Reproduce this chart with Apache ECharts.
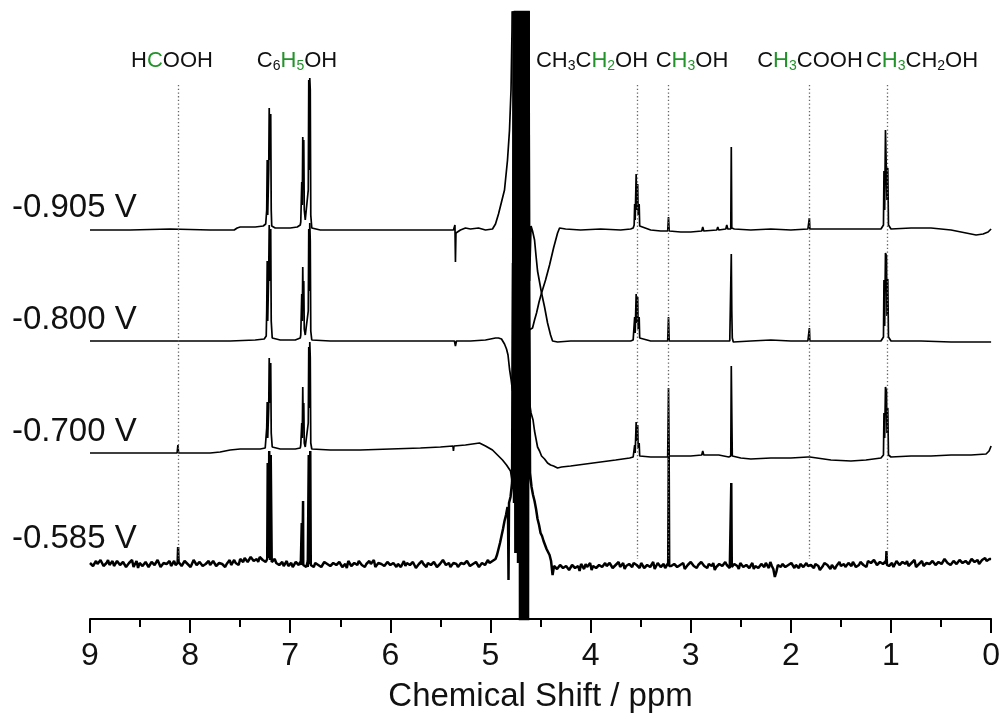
<!DOCTYPE html>
<html>
<head>
<meta charset="utf-8">
<title>1H NMR spectra</title>
<script src="https://cdn.jsdelivr.net/npm/echarts@6/dist/echarts.min.js"></script>
<style>
  html, body { margin: 0; padding: 0; background: #fff; }
  #chart { width: 1003px; height: 719px; }
</style>
</head>
<body>
<div id="chart"></div>
<script>
// Electrode potentials, one spectrum each (top to bottom)
const voltageLabels = ['-0.905 V', '-0.800 V', '-0.700 V', '-0.585 V'];
// Vertical stacking offset of each spectrum (intensity units)
const traceOffsets = [389, 278, 166, 56];
// Reference shifts (ppm) marked with dotted guides
const guideShifts = [8.12, 3.53, 3.22, 1.82, 1.04];

// Spectrum at -0.905 V : [ppm, intensity]
const spec0905 = [
  [9.00,0],[8.60,0],[8.20,1],[7.80,0],[7.56,0],[7.53,2],[7.50,3],[7.35,3],[7.27,4],[7.245,6],
  [7.235,20],[7.23,70],[7.225,15],[7.215,60],[7.21,122],[7.205,70],[7.195,116],[7.19,20],[7.185,4],
  [7.15,2],[7.00,2],[6.93,3],[6.90,5],[6.895,8],
  [6.885,48],[6.88,25],[6.875,93],[6.87,40],[6.865,90],[6.86,20],[6.85,10],[6.835,8],
  [6.82,40],[6.815,150],[6.81,60],[6.805,152],[6.80,140],[6.795,15],[6.785,2],
  [6.70,0],[6.40,0],[6.00,0],[5.60,0],[5.37,0],[5.355,5],[5.35,-32],[5.345,-3],[5.30,0],[5.25,2],[5.20,1],
  [5.12,2],[5.05,0],[4.98,1],[4.95,6],[4.92,16],[4.89,28],[4.86,40],[4.83,70],[4.81,100],[4.795,140],[4.785,200],
  [4.775,330],[4.765,700],[4.755,100],[4.745,700],[4.735,40],[4.725,700],[4.715,-60],[4.705,700],[4.695,-90],
  [4.685,700],[4.675,-100],[4.665,700],[4.655,-105],[4.645,700],[4.635,-105],[4.625,700],[4.615,-100],[4.605,-100],
  [4.58,-98],[4.56,-90],[4.54,-83],[4.515,-72],[4.49,-63],[4.45,-50],[4.41,-35],[4.37,-18],[4.33,-3],[4.31,2],
  [4.25,1],[4.10,0],[3.90,1],[3.70,0],[3.60,1],[3.575,2],
  [3.565,5],[3.56,26],[3.555,10],[3.545,56],[3.54,20],[3.53,46],[3.525,15],[3.515,26],[3.51,4],[3.50,2],
  [3.40,0],[3.30,-1],[3.23,-1],[3.222,13],[3.215,-1],[3.10,-2],[3.00,-2],[2.89,-1],[2.88,3],[2.87,-1],
  [2.74,0],[2.73,3],[2.72,0],[2.65,1],[2.64,5],[2.63,1],[2.60,1],[2.595,83],[2.59,2],[2.575,4],[2.565,1],
  [2.40,0],[2.20,1],[2.00,0],[1.83,1],[1.815,12],[1.81,1],[1.60,1],[1.30,1],[1.10,1],[1.075,5],
  [1.07,59],[1.063,20],[1.055,100],[1.045,98],[1.04,30],[1.032,62],[1.025,5],[1.00,1],
  [0.80,2],[0.60,2],[0.40,0],[0.25,-3],[0.15,-5],[0.08,-4],[0.03,-2],[0.00,1]
];

// Spectrum at -0.800 V
const spec0800 = [
  [9.00,0],[8.50,0],[8.00,0],[7.60,0],[7.35,1],[7.26,2],[7.24,5],
  [7.235,30],[7.23,80],[7.225,20],[7.215,70],[7.21,116],[7.205,60],[7.195,112],[7.19,20],[7.18,3],
  [7.10,1],[6.95,1],[6.90,3],[6.895,6],
  [6.885,47],[6.88,20],[6.875,74],[6.87,30],[6.865,60],[6.86,12],[6.85,6],[6.835,5],
  [6.82,30],[6.815,112],[6.81,50],[6.805,118],[6.80,100],[6.795,10],[6.785,1],
  [6.60,0],[6.20,0],[5.80,0],[5.50,0],[5.36,0],[5.35,-5],[5.34,0],[5.20,0],[5.05,1],[4.95,3],[4.92,3],
  [4.89,2],[4.86,-3],[4.84,-8],[4.825,-14],[4.81,-28],[4.795,-38],[4.78,-50],
  [4.765,700],[4.755,-120],[4.745,700],[4.735,-130],[4.725,700],[4.715,-130],[4.705,700],[4.695,-130],
  [4.685,700],[4.675,-130],[4.665,700],[4.655,-130],[4.645,700],[4.635,-125],[4.625,700],[4.61,60],
  [4.595,115],[4.58,110],[4.56,101],[4.545,85],[4.53,70],[4.49,48],[4.46,34],[4.43,18],[4.40,6],[4.38,0],
  [4.33,-1],[4.20,0],[4.00,0],[3.80,0],[3.60,0],[3.575,1],
  [3.565,3],[3.56,24],[3.555,8],[3.545,47],[3.54,18],[3.53,44],[3.525,12],[3.515,24],[3.51,3],[3.50,1],
  [3.40,0],[3.23,0],[3.222,24],[3.215,0],[3.00,0],[2.89,0],[2.88,2],[2.87,0],[2.70,0],[2.61,0],[2.60,1],
  [2.595,87],[2.59,30],[2.585,3],[2.575,-1],[2.40,0],[2.20,1],[2.00,0],[1.83,0],[1.815,13],[1.81,0],
  [1.60,0],[1.30,0],[1.10,0],[1.075,4],
  [1.07,61],[1.063,15],[1.055,88],[1.045,85],[1.04,25],[1.032,62],[1.025,4],[1.00,0],
  [0.70,0],[0.40,-1],[0.20,-1],[0.00,-1]
];

// Spectrum at -0.700 V
const spec0700 = [
  [9.00,0],[8.60,0],[8.20,0],[8.13,0],[8.122,8],[8.115,0],[8.00,0],[7.80,0],[7.70,1],[7.60,3],[7.50,4],
  [7.30,4],[7.25,5],[7.24,7],
  [7.235,25],[7.23,51],[7.225,15],[7.215,45],[7.21,95],[7.205,50],[7.195,90],[7.19,20],[7.18,6],
  [7.10,4],[6.95,4],[6.90,5],[6.895,8],
  [6.885,30],[6.88,15],[6.875,66],[6.87,25],[6.865,50],[6.86,10],[6.85,6],[6.835,5],
  [6.82,30],[6.815,106],[6.81,45],[6.805,111],[6.80,95],[6.795,10],[6.785,4],
  [6.60,3],[6.30,3],[6.00,4],[5.70,5],[5.50,6],[5.375,7],[5.37,2],[5.365,7],[5.25,8],[5.11,10],[5.05,7],
  [4.98,3],[4.93,-2],[4.88,-7],[4.84,-12],[4.82,-15],[4.80,-18],[4.78,-30],
  [4.765,700],[4.755,-100],[4.745,700],[4.735,-100],[4.725,700],[4.715,-100],[4.705,700],[4.695,-100],
  [4.685,700],[4.675,-100],[4.665,700],[4.655,-100],[4.645,700],[4.635,-100],[4.625,700],[4.61,50],
  [4.595,40],[4.575,33],[4.56,22],[4.545,14],[4.53,6],[4.51,2],[4.49,-3],[4.46,-6],[4.43,-10],[4.40,-12],
  [4.37,-13],[4.33,-15],[4.29,-14],[4.20,-13],[4.05,-11],[3.90,-9],[3.75,-7],[3.61,-5],[3.575,-4],
  [3.565,-2],[3.56,8],[3.555,0],[3.545,31],[3.54,12],[3.53,28],[3.525,5],[3.515,10],[3.51,-3],[3.50,-4],
  [3.40,-4],[3.30,-4],[3.23,-4],[3.222,65],[3.215,-3],[3.10,-3],[3.00,-3],[2.89,-2],[2.88,2],[2.87,-2],
  [2.74,-2],[2.73,0],[2.72,-2],[2.62,-4],[2.60,-3],[2.595,87],[2.59,40],[2.585,-3],[2.575,-5],[2.50,-5],
  [2.40,-6],[2.20,-5],[2.00,-5],[1.83,-4],[1.82,-2],[1.81,-4],[1.60,-7],[1.40,-8],[1.25,-7],[1.10,-5],[1.075,-2],
  [1.07,40],[1.063,15],[1.055,66],[1.045,62],[1.04,20],[1.032,45],[1.025,-2],[1.00,-4],
  [0.80,-3],[0.60,-3],[0.40,-2],[0.20,-2],[0.05,-1],[0.02,2],[0.00,7]
];

// Spectrum at -0.585 V: baseline read every 0.03 ppm from 9.00 down to 0.00
const base0585 = [
   0,-3, 2,-2, 1,-4, 3,-1,-3, 2,  -2, 1,-4, 0, 3,-2,-5, 1,-1, 2,
  -3, 0,-2, 3,-4, 1,-1,-3, 2,-2,   0,-3, 1,-2,-4, 2,-1, 0,-3, 1,
  -2, 2,-3, 0,-1,-4, 1,-2, 3, 0,   4, 1, 5, 2, 6, 3, 1, 5, 2, 4,
   3, 2, 0,-2, 1,-1,-3, 0,-2, 1,   1,-2,-4,-1,-3, 0,-2,-4, 1,-1,
  -3, 0,-2, 1,-4,-1, 2,-3, 0,-2,   1,-3,-1, 2,-2,-4, 0,-1,-3, 1,
  -2, 0,-4, 1,-1,-3, 2,-2, 0,-3,   1,-1,-4, 0,-2, 2,-3,-1, 1,-2,
  -4, 0,-1,-3, 2,-2, 0,-3, 1,-1,  -2, 1,-3, 0, 2, 4,14,27,42,56,
  66,200,600,600,600,600,600,76,62,44,  30,22,14, 8,-12,-1,-5,-3,-6,-2,
  -6,-2,-5,-8,-3,-1,-5,-7,-2,-4,  -1,-4,-3, 0,-5,-2, 1,-3,-6,-1,
  -3, 0,-2,-5, 1,-4,-1,-2,-6, 0,  -4,-1,-3,-2,-5, 0,-3,-1,-6,-2,
   1,-3,-5,-2, 0,-4,-1,-3,-7,-2,  -1,-4,-2,-5,-3, 0,-6,-2,-4,-1,
  -3,-6,-1,-4,-2, 0,-5,-3,-14,-2, -4,-1,-6,-3, 0,-2,-5,-1,-4,-3,
  -2,-5,-1,-7,-3, 0,-4,-2,-6,-1,  -3,-1,-5,-2, 1,-4,-2, 0,-3, 2,
   0, 3,-2, 1,-1, 2,-3, 0,-2, 1,  -3, 0, 2,-2, 1,-4,-1, 2,-2, 0,
  -1, 2,-3, 1,-2, 3, 0,-2, 2,-1,   1,-1, 3, 0, 4, 1,-1, 3, 5, 2,
   4
];
// same spectrum, read halfway between those points (8.985 down to 0.015 ppm)
const mid0585 = [
   2,-4,-1, 3,-3, 0,-2, 2,-5, 1,  -1, 3,-3,-1,-4, 2, 0,-3, 1,-4,
   1,-2, 3,-4, 0,-1, 2,-5,-2, 1,  -3, 2,-1,-4, 3,-2, 1,-3,-1, 2,
  -4, 1,-2, 2,-3,-1, 3,-4, 0,-2,   3, 5, 1, 6, 2, 4, 6, 3, 1, 5,
   1, 4,-2, 0,-3, 2,-1,-4, 1,-2,  -3, 0, 2,-2,-4, 1,-1,-3, 2,-2,
  -1, 2,-4, 0,-2,-5, 1,-3, 0, 2,  -2,-4, 1,-1, 3,-3, 0,-2,-4, 1,
  -3, 1,-1,-4, 2, 0,-2, 1,-5,-1,   2,-3, 0,-2, 1,-4,-1, 3,-2, 0,
  -2, 1,-4, 0,-1, 2,-3,-1, 1,-4,   0,-2, 3,-1, 2, 8,20,34,48,60,
  80,600,600,600,600,600,90,68,54,38,  27,18,11, 2,-3,-6,-2,-5,-3,-7,
  -2,-5,-3,-1,-6,-4, 0,-3,-5,-2,  -4, 0,-3,-1,-5,-2,-4, 0,-3,-1,
  -4,-1,-3, 0,-5,-2,-4, 1,-3,-1,  -2,-5, 0,-3,-1,-4,-2, 0,-5,-3,
  -1,-4,-2, 1,-3,-5,-2, 0,-4,-1,  -3, 1,-2,-6,-1,-3, 0,-4,-2,-5,
   0,-3,-5,-1,-4,-2, 1,-6,-9,-3,  -1,-4,-2, 0,-5,-3,-1,-4, 0,-2,
  -4,-1,-3,-5, 0,-2,-6,-1,-3, 1,  -2,-4, 0,-3,-1,-5, 1,-2,-4, 0,
  -2, 1,-1, 3,-3, 0,-1,-4, 2,-2,   1,-1,-3, 0, 3,-2, 1,-3, 0,-1,
   2,-2, 1,-1, 4, 0,-2, 2,-1, 3,   0, 2,-1, 4, 1, 3, 0, 5, 2, 4
];
// Sharp lines of the -0.585 V spectrum (ppm, intensity)
const lines0585 = [
  [8.125,0],[8.12,16],[8.115,-1],
  [7.235,2],[7.225,100],[7.215,20],[7.21,112],[7.20,30],[7.195,108],[7.185,0],
  [6.895,-2],[6.885,40],[6.878,10],[6.872,62],[6.86,-3],
  [6.825,-4],[6.815,108],[6.808,40],[6.80,112],[6.79,-2],
  [4.825,50],[4.82,-17],[4.815,60],
  [4.785,75],[4.775,300],[4.765,60],[4.755,700],[4.745,10],[4.735,700],[4.725,0],[4.715,700],
  [4.705,-100],[4.695,700],[4.685,-100],[4.675,700],[4.665,-100],[4.655,700],[4.645,-100],
  [4.635,700],[4.625,-60],[4.615,300],[4.605,90],
  [3.225,-2],[3.22,108],[3.215,-3],
  [2.60,-3],[2.595,80],[2.59,-4],
  [1.05,-1],[1.045,12],[1.04,-2]
];

// Compound labels (rich text: k = black, g = green, *s = subscript)
const compoundLabels = [
  '{k|H}{g|C}{k|OOH}',
  '{k|C}{ks|6}{g|H}{gs|5}{k|OH}',
  '{k|CH}{ks|3}{k|C}{g|H}{gs|2}{k|OH}',
  '{k|C}{g|H}{gs|3}{k|OH}',
  '{k|C}{g|H}{gs|3}{k|COOH}',
  '{k|C}{g|H}{gs|3}{k|CH}{ks|2}{k|OH}'
];

const FONT = '"Liberation Sans", Arial, Helvetica, sans-serif';
const GREEN = '#22922a';
const INK = '#111111';

const spec0585 = base0585
  .map((v, i) => [Number((9 - i * 0.03).toFixed(3)), v])
  .concat(mid0585.map((v, i) => [Number((8.985 - i * 0.03).toFixed(3)), v]))
  .concat(lines0585)
  .sort((a, b) => b[0] - a[0]);

const spectra = [spec0905, spec0800, spec0700, spec0585];

const chart = echarts.init(document.getElementById('chart'), null, { renderer: 'canvas' });

const series = spectra.map((pts, k) => ({
  type: 'line',
  name: voltageLabels[k],
  data: pts.map(([p, v]) => [p, traceOffsets[k] + v]),
  showSymbol: false,
  symbol: 'none',
  clip: true,
  silent: true,
  lineStyle: { color: '#000', width: k === 3 ? 2.5 : 1.7, join: 'bevel' },
  z: 3
}));

// dotted guides at the reference shifts
series.push({
  type: 'line',
  data: [],
  silent: true,
  markLine: {
    silent: true,
    symbol: 'none',
    animation: false,
    label: { show: false },
    lineStyle: { color: '#666', width: 1.3, type: [1.3, 2.4] },
    data: guideShifts.map(p => [{ coord: [p, 534] }, { coord: [p, 60] }])
  },
  z: 2
});

const labelX = [172, 297, 592, 692, 810, 922];
const rich = {
  k:  { fill: INK,   fontSize: 22, fontFamily: FONT, lineHeight: 24 },
  g:  { fill: GREEN, fontSize: 22, fontFamily: FONT, lineHeight: 24 },
  ks: { fill: INK,   fontSize: 14, fontFamily: FONT, lineHeight: 10, verticalAlign: 'bottom' },
  gs: { fill: GREEN, fontSize: 14, fontFamily: FONT, lineHeight: 10, verticalAlign: 'bottom' }
};
const voltageY = [208, 320, 432, 539];

const graphic = [];
compoundLabels.forEach((t, i) => {
  graphic.push({
    type: 'text', x: labelX[i], y: 61, z: 10, silent: true,
    style: { text: t, rich, align: 'center', verticalAlign: 'middle' }
  });
});
voltageLabels.forEach((t, i) => {
  graphic.push({
    type: 'text', x: 12, y: voltageY[i], z: 10, silent: true,
    style: { text: t, font: '33px ' + FONT, fill: INK, align: 'left', verticalAlign: 'middle' }
  });
});

chart.setOption({
  animation: false,
  backgroundColor: '#fff',
  grid: { left: 90, right: 11, top: 12, bottom: 100, containLabel: false },
  xAxis: {
    type: 'value',
    inverse: true,
    min: 0,
    max: 9,
    interval: 1,
    name: 'Chemical Shift / ppm',
    nameLocation: 'middle',
    nameGap: 61,
    nameTextStyle: { fontSize: 33, color: INK, fontFamily: FONT },
    axisLine: { lineStyle: { color: '#000', width: 2 } },
    axisTick: { length: 14, lineStyle: { color: '#000', width: 2 } },
    minorTick: { show: true, splitNumber: 2, length: 8, lineStyle: { color: '#000', width: 2 } },
    splitLine: { show: false },
    minorSplitLine: { show: false },
    axisLabel: { fontSize: 32, color: INK, fontFamily: FONT, margin: 21 }
  },
  yAxis: {
    type: 'value', min: 0, max: 607, show: false,
    splitLine: { show: false }
  },
  series,
  graphic
});
</script>
</body>
</html>
